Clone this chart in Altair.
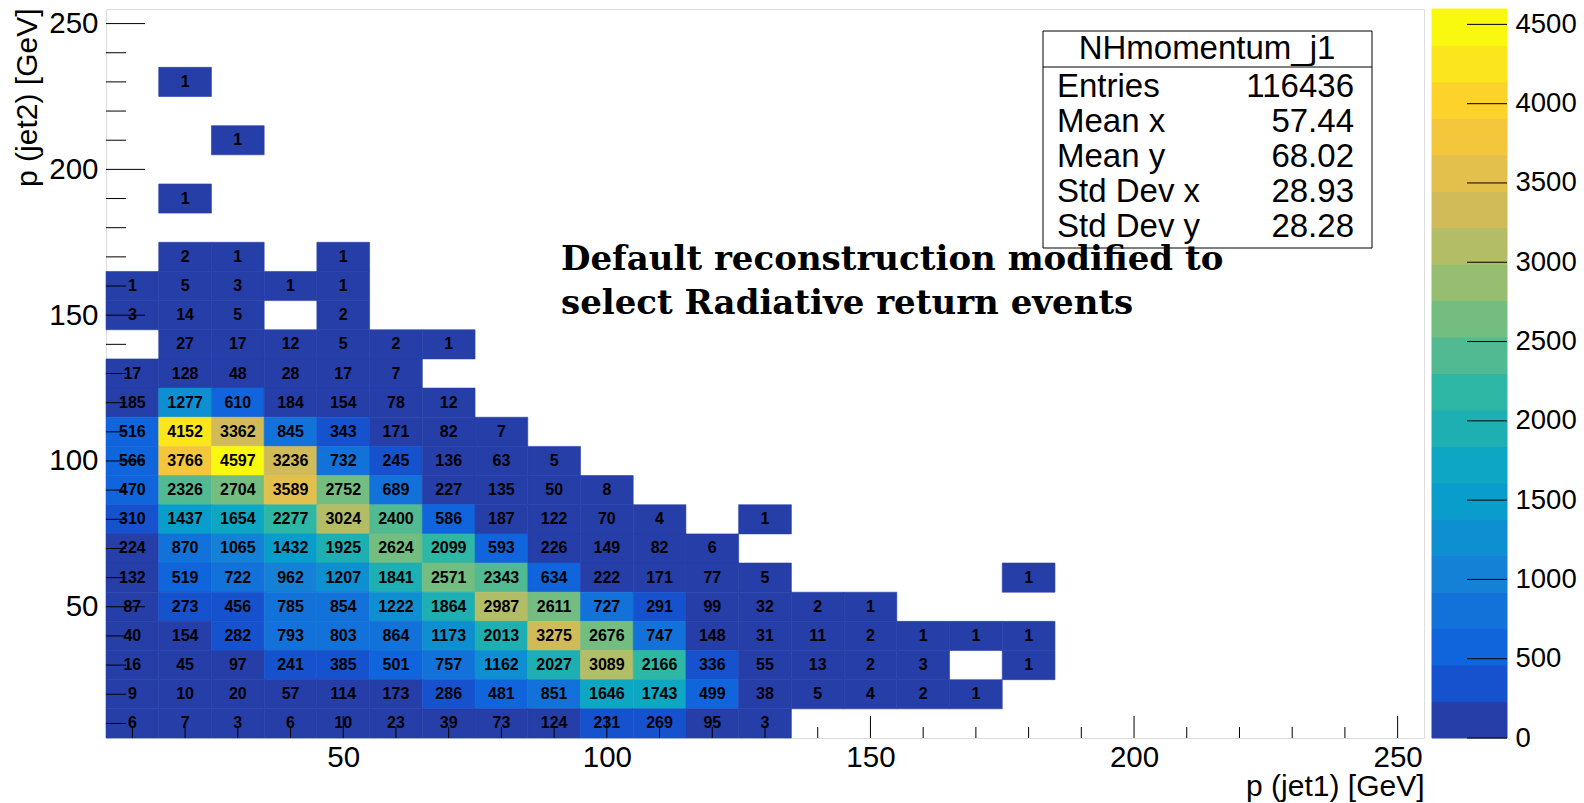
import altair as alt
import numpy as np
import pandas as pd

# ---- histogram contents: one list per p(jet2) bin, starting at the p(jet1) = 10 GeV bin
bin_width = 10
row_y = [230, 210, 190, 170, 160, 150, 140, 130, 120, 110, 100, 90, 80, 70, 60, 50, 40, 30, 20, 10]
row_counts = [
    [0, 1],
    [0, 0, 1],
    [0, 1],
    [0, 2, 1, 0, 1],
    [1, 5, 3, 1, 1],
    [3, 14, 5, 0, 2],
    [0, 27, 17, 12, 5, 2, 1],
    [17, 128, 48, 28, 17, 7],
    [185, 1277, 610, 184, 154, 78, 12],
    [516, 4152, 3362, 845, 343, 171, 82, 7],
    [566, 3766, 4597, 3236, 732, 245, 136, 63, 5],
    [470, 2326, 2704, 3589, 2752, 689, 227, 135, 50, 8],
    [310, 1437, 1654, 2277, 3024, 2400, 586, 187, 122, 70, 4, 0, 1],
    [224, 870, 1065, 1432, 1925, 2624, 2099, 593, 226, 149, 82, 6],
    [132, 519, 722, 962, 1207, 1841, 2571, 2343, 634, 222, 171, 77, 5, 0, 0, 0, 0, 1],
    [87, 273, 456, 785, 854, 1222, 1864, 2987, 2611, 727, 291, 99, 32, 2, 1],
    [40, 154, 282, 793, 803, 864, 1173, 2013, 3275, 2676, 747, 148, 31, 11, 2, 1, 1, 1],
    [16, 45, 97, 241, 385, 501, 757, 1162, 2027, 3089, 2166, 336, 55, 13, 2, 3, 0, 1],
    [9, 10, 20, 57, 114, 173, 286, 481, 851, 1646, 1743, 499, 38, 5, 4, 2, 1],
    [6, 7, 3, 6, 10, 23, 39, 73, 124, 231, 269, 95, 3],
]
first_x = 10

# statistics box
stats_title = "NHmomentum_j1"
stats_names = ["Entries", "Mean x", "Mean y", "Std Dev x", "Std Dev y"]
stats_values = ["116436", "57.44", "68.02", "28.93", "28.28"]

note_lines = ["Default reconstruction modified to", "select Radiative return events"]

axis_range = [5, 255]
major_ticks = [50, 100, 150, 200, 250]
minor_ticks = [v for v in range(10, 251, 10) if v % 50 != 0]
z_ticks = [0, 500, 1000, 1500, 2000, 2500, 3000, 3500, 4000, 4500]
n_contours = 20

# ---- ROOT "kBird" palette (255 gradient colours)
stops = [0.0, 0.125, 0.25, 0.375, 0.5, 0.625, 0.75, 0.875, 1.0]
red = [0.2082, 0.0592, 0.0780, 0.0232, 0.1802, 0.5301, 0.8186, 0.9956, 0.9764]
green = [0.1664, 0.3599, 0.5041, 0.6419, 0.7178, 0.7492, 0.7328, 0.7862, 0.9832]
blue = [0.5293, 0.8684, 0.8385, 0.7914, 0.6425, 0.4662, 0.3499, 0.1968, 0.0539]


def palette(k, ncol=255):
    bounds = [int(np.floor(ncol * s)) for s in stops]
    for g in range(1, len(stops)):
        if k < bounds[g]:
            n = bounds[g] - bounds[g - 1]
            t = (k - bounds[g - 1]) / n
            r = red[g - 1] + t * (red[g] - red[g - 1])
            gg = green[g - 1] + t * (green[g] - green[g - 1])
            b = blue[g - 1] + t * (blue[g] - blue[g - 1])
            return "#%02x%02x%02x" % (round(r * 255), round(gg * 255), round(b * 255))
    return "#%02x%02x%02x" % (round(red[-1] * 255), round(green[-1] * 255), round(blue[-1] * 255))


band_colors = [palette(int((i + 0.99) * 255 / n_contours)) for i in range(n_contours)]

cells = []
for y, counts in zip(row_y, row_counts):
    for i, n in enumerate(counts):
        if n > 0:
            x = first_x + i * bin_width
            cells.append({"x": x, "y": y, "n": n})
cells = pd.DataFrame(cells)
z_max = float(cells["n"].max())
cells["x0"] = cells["x"] - bin_width / 2
cells["x1"] = cells["x"] + bin_width / 2
cells["y0"] = cells["y"] - bin_width / 2
cells["y1"] = cells["y"] + bin_width / 2
level = np.minimum((0.01 + cells["n"] * n_contours / z_max).astype(int), n_contours - 1)
cells["fill"] = [band_colors[k] for k in level]

bands = pd.DataFrame({
    "lo": [i * z_max / n_contours for i in range(n_contours)],
    "hi": [(i + 1) * z_max / n_contours for i in range(n_contours)],
    "fill": band_colors,
})

W, H = 1318, 729
FONT = "Liberation Sans"
FS_LABEL = 29.5
FS_TITLE = 30
FS_STATS = 33

xs = alt.Scale(domain=axis_range, nice=False, zero=False)
ys = alt.Scale(domain=axis_range, nice=False, zero=False)
x_title = "p (jet1) [GeV]"
y_title = "p (jet2) [GeV]"

x_axis = alt.Axis(values=major_ticks, ticks=False, tickSize=0, domain=False, grid=False,
                  labelPadding=5, labelFontSize=FS_LABEL, labelFont=FONT, labelColor="black",
                  title=x_title, titleFont=FONT, titleFontSize=FS_TITLE, titleFontWeight="normal",
                  titleColor="black", titleX=W, titleY=57, titleAlign="right",
                  titleBaseline="alphabetic", titleAnchor="end")
y_axis = alt.Axis(values=major_ticks, ticks=False, tickSize=0, domain=False, grid=False,
                  labelPadding=8, labelFontSize=FS_LABEL, labelFont=FONT, labelColor="black",
                  title=y_title, titleFont=FONT, titleFontSize=FS_TITLE, titleFontWeight="normal",
                  titleColor="black", titleAngle=270, titleX=-70, titleY=-1,
                  titleAlign="right", titleBaseline="alphabetic")

rects = alt.Chart(cells).mark_rect(strokeWidth=0.6).encode(
    x=alt.X("x0:Q", scale=xs, axis=x_axis, title=x_title),
    x2="x1:Q",
    y=alt.Y("y0:Q", scale=ys, axis=y_axis, title=y_title),
    y2="y1:Q",
    color=alt.Color("fill:N", scale=None),
    stroke=alt.Stroke("fill:N", scale=None),
)

numbers = alt.Chart(cells).mark_text(font=FONT, fontWeight="bold", fontSize=16,
                                     color="black", baseline="middle", align="center").encode(
    x=alt.X("x:Q", scale=xs, title=x_title),
    y=alt.Y("y:Q", scale=ys, title=y_title),
    text="n:Q",
)

tick_major = pd.DataFrame({"v": major_ticks})
tick_minor = pd.DataFrame({"v": minor_ticks})

y_major = alt.Chart(tick_major).mark_rule(color="black", strokeWidth=1).encode(
    y=alt.Y("v:Q", scale=ys, title=y_title), x=alt.value(0), x2=alt.value(39))
y_minor = alt.Chart(tick_minor).mark_rule(color="black", strokeWidth=1).encode(
    y=alt.Y("v:Q", scale=ys, title=y_title), x=alt.value(0), x2=alt.value(20))
x_major = alt.Chart(tick_major).mark_rule(color="black", strokeWidth=1).encode(
    x=alt.X("v:Q", scale=xs, title=x_title), y=alt.value(H), y2=alt.value(H - 22))
x_minor = alt.Chart(tick_minor).mark_rule(color="black", strokeWidth=1).encode(
    x=alt.X("v:Q", scale=xs, title=x_title), y=alt.value(H), y2=alt.value(H - 11))

# statistics box
box = alt.Chart(pd.DataFrame({"k": [0]})).mark_rect(fill="white", stroke="black", strokeWidth=1).encode(
    x=alt.value(937), x2=alt.value(1266), y=alt.value(22), y2=alt.value(239))
box_line = alt.Chart(pd.DataFrame({"k": [0]})).mark_rule(color="black", strokeWidth=1).encode(
    x=alt.value(937), x2=alt.value(1266), y=alt.value(58))
box_title = alt.Chart(pd.DataFrame({"t": [stats_title]})).mark_text(
    font=FONT, fontSize=FS_STATS, color="black", align="center", baseline="middle").encode(
    x=alt.value(1101), y=alt.value(40), text="t:N")
stat_layers = []
for i, (name, val) in enumerate(zip(stats_names, stats_values)):
    yy = 78 + i * 35.1
    stat_layers.append(alt.Chart(pd.DataFrame({"t": [name]})).mark_text(
        font=FONT, fontSize=FS_STATS, color="black", align="left", baseline="middle").encode(
        x=alt.value(951), y=alt.value(yy), text="t:N"))
    stat_layers.append(alt.Chart(pd.DataFrame({"t": [val]})).mark_text(
        font=FONT, fontSize=FS_STATS, color="black", align="right", baseline="middle").encode(
        x=alt.value(1248), y=alt.value(yy), text="t:N"))

note = alt.Chart(pd.DataFrame({"k": [0]})).mark_text(
    font="DejaVu Serif", fontWeight="bold", fontSize=34, color="black", align="left",
    baseline="middle", lineHeight=44).encode(
    x=alt.value(455), y=alt.value(251), text=alt.value(note_lines))

main = alt.layer(rects, numbers, y_major, y_minor, x_major, x_minor,
                 box, box_line, box_title, *stat_layers, note)

# palette axis drawn to the right of the frame
zs = alt.Scale(domain=[0, z_max], nice=False, zero=True)
z_axis = alt.Axis(orient="right", offset=83, values=z_ticks, format="d", ticks=False, tickSize=0,
                  domain=False, grid=False, labelPadding=8, labelFontSize=27.5, labelFont=FONT,
                  labelColor="black", labelOverlap=False, title=None)
cbar = alt.Chart(bands).mark_rect().encode(
    y=alt.Y("lo:Q", scale=zs, axis=z_axis),
    y2="hi:Q",
    x=alt.value(1326), x2=alt.value(1401),
    color=alt.Color("fill:N", scale=None),
    stroke=alt.Stroke("fill:N", scale=None),
)
cbar_ticks = alt.Chart(pd.DataFrame({"z": z_ticks})).mark_rule(color="black", strokeWidth=1).encode(
    y=alt.Y("z:Q", scale=zs, axis=z_axis), x=alt.value(1361), x2=alt.value(1401))
palette_layer = alt.layer(cbar, cbar_ticks)

chart = alt.layer(main, palette_layer).resolve_scale(y="independent").properties(
    width=W, height=H,
    autosize=alt.AutoSizeParams(type="none"),
    padding={"left": 106, "top": 9, "right": 160, "bottom": 65},
).configure_view(stroke="black", strokeWidth=1).configure(background="white")

chart.save("out.html", embed_options={"renderer": "svg", "actions": False})
